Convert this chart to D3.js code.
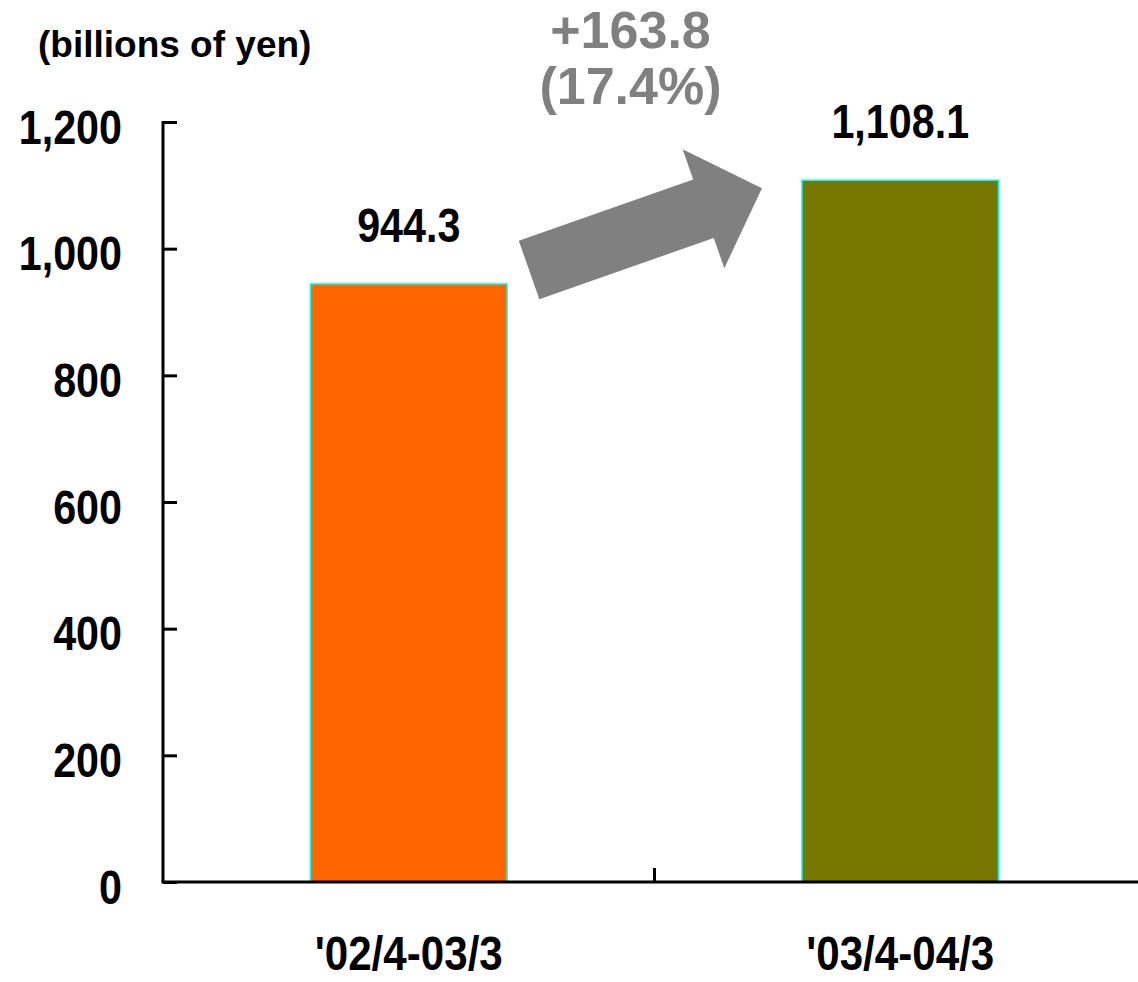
<!DOCTYPE html>
<html>
<head>
<meta charset="utf-8">
<script src="https://cdn.jsdelivr.net/npm/d3@7"></script>
<style>
  html, body { margin: 0; padding: 0; background: #ffffff; }
  svg text { font-family: "Liberation Sans", Arial, sans-serif; font-weight: bold; }
</style>
</head>
<body>
<svg id="chart" width="1138" height="982"></svg>
<script>
const categories = ["'02/4-03/3", "'03/4-04/3"];
const values = [944.3, 1108.1];
const valueLabels = ["944.3", "1,108.1"];
const barColors = ['#ff6600', '#777700'];
const yTicks = [0, 200, 400, 600, 800, 1000, 1200];
const changeLabels = ['+163.8', '(17.4%)'];
const unitLabel = '(billions of yen)';

const svg = d3.select('#chart');

const plotLeft = 163, plotRight = 1146, plotTop = 122, plotBottom = 882;
const squeeze = 0.86; // the chart font is a narrow bold face

const xScale = d3.scaleBand()
    .domain(categories)
    .range([plotLeft, plotRight])
    .paddingInner(0.6)
    .paddingOuter(0.3);

const yScale = d3.scaleLinear()
    .domain([0, 1200])
    .range([plotBottom, plotTop]);

// y axis, ticks pointing inward
const yAxis = svg.append('g')
    .attr('transform', `translate(${plotLeft}, 0)`)
    .call(d3.axisLeft(yScale)
        .tickValues(yTicks)
        .tickSize(-14)
        .tickFormat(d3.format(',')));

yAxis.select('.domain')
    .attr('stroke', '#000')
    .attr('stroke-width', 3)
    .attr('d', `M0,${plotTop - 1}V${plotBottom}`);
yAxis.selectAll('.tick line')
    .attr('stroke', '#000')
    .attr('stroke-width', 3);
yAxis.selectAll('.tick text')
    .attr('x', null)
    .attr('dy', null)
    .attr('dominant-baseline', 'central')
    .attr('transform', `translate(-41, 4) scale(${squeeze}, 1)`)
    .attr('text-anchor', 'end')
    .attr('fill', '#000')
    .style('font-size', '48px');

// bars
svg.append('g')
    .selectAll('rect')
    .data(values)
    .enter()
    .append('rect')
    .attr('x', (d, i) => xScale(categories[i]))
    .attr('y', (d) => yScale(d))
    .attr('width', xScale.bandwidth())
    .attr('height', (d) => yScale(0) - yScale(d))
    .attr('fill', (d, i) => barColors[i])
    .attr('stroke', '#00ffff')
    .attr('stroke-width', 1.5);

// x axis line with a tick between the categories
const boundary = (xScale(categories[0]) + xScale.bandwidth() + xScale(categories[1])) / 2;
svg.append('line')
    .attr('x1', plotLeft - 1.5)
    .attr('x2', plotRight)
    .attr('y1', plotBottom)
    .attr('y2', plotBottom)
    .attr('stroke', '#000')
    .attr('stroke-width', 3);
svg.append('line')
    .attr('x1', boundary)
    .attr('x2', boundary)
    .attr('y1', plotBottom)
    .attr('y2', plotBottom - 14)
    .attr('stroke', '#000')
    .attr('stroke-width', 3);

// category labels
svg.append('g')
    .selectAll('text')
    .data(categories)
    .enter()
    .append('text')
    .attr('transform', (d) => `translate(${xScale(d) + xScale.bandwidth() / 2}, 970) scale(${squeeze}, 1)`)
    .attr('text-anchor', 'middle')
    .style('font-size', '49px')
    .text((d) => d);

// value labels
svg.append('g')
    .selectAll('text')
    .data(values)
    .enter()
    .append('text')
    .attr('transform', (d, i) => `translate(${xScale(categories[i]) + xScale.bandwidth() / 2}, ${yScale(d) - 42}) scale(${squeeze}, 1)`)
    .attr('text-anchor', 'middle')
    .style('font-size', '48px')
    .text((d, i) => valueLabels[i]);

// growth arrow between the bars
const x0 = xScale(categories[0]) + xScale.bandwidth() + 22;
const y0 = yScale(values[0]) - 14;
const x1 = xScale(categories[1]) - 40;
const y1 = yScale(values[1]) + 8;
const len = Math.hypot(x1 - x0, y1 - y0);
const angle = Math.atan2(y1 - y0, x1 - x0) * 180 / Math.PI;
const shaft = 31, head = 63, headLen = 62;
const arrowPts = [
    [0, -shaft], [len - headLen, -shaft], [len - headLen, -head],
    [len, 0], [len - headLen, head], [len - headLen, shaft], [0, shaft]
];
svg.append('polygon')
    .attr('points', arrowPts.map((p) => p.join(',')).join(' '))
    .attr('transform', `translate(${x0}, ${y0}) rotate(${angle})`)
    .attr('fill', '#808080');

// change labels
svg.append('g')
    .selectAll('text')
    .data(changeLabels)
    .enter()
    .append('text')
    .attr('x', boundary - 24)
    .attr('y', (d, i) => 48 + i * 56)
    .attr('text-anchor', 'middle')
    .attr('fill', '#808080')
    .style('font-size', '52px')
    .text((d) => d);

// unit label
svg.append('text')
    .attr('x', 38)
    .attr('y', 57)
    .style('font-size', '37px')
    .text(unitLabel);
</script>
</body>
</html>
